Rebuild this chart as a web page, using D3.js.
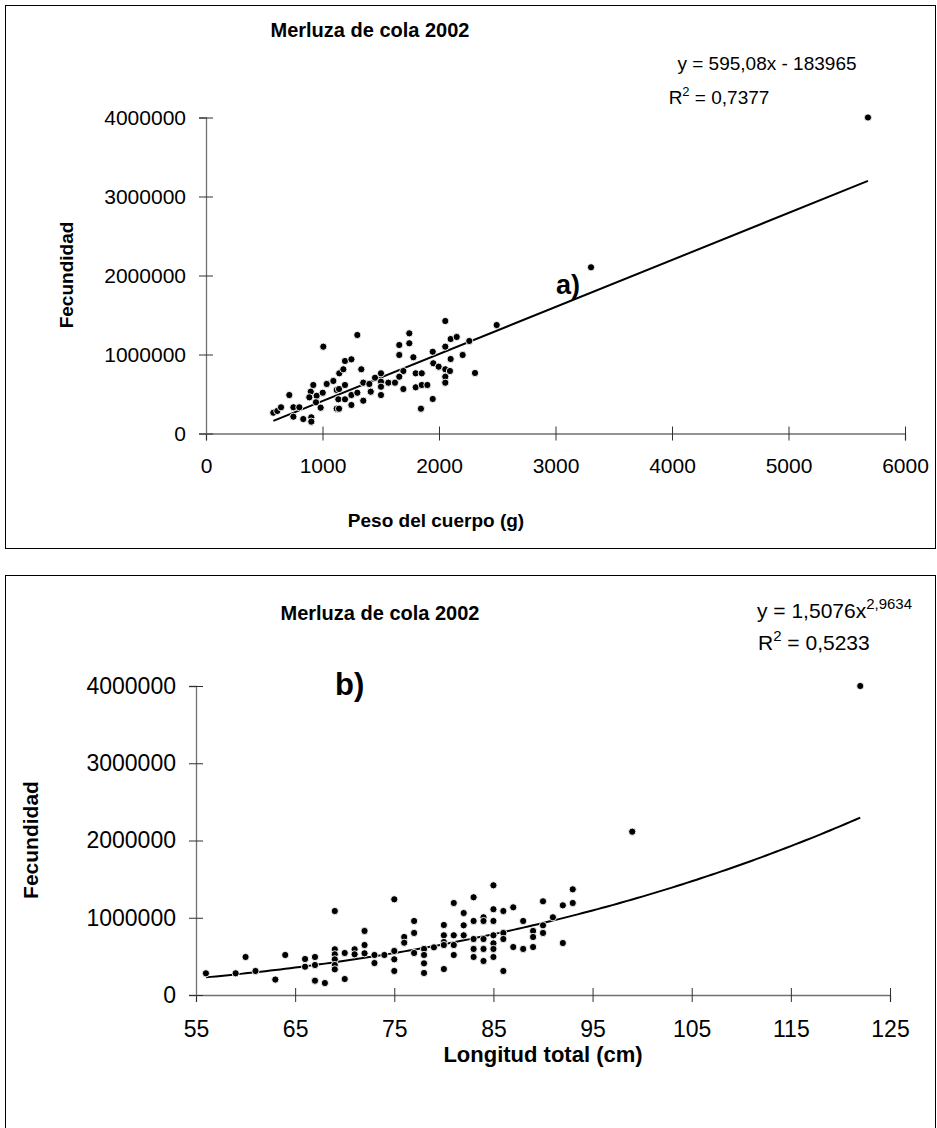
<!DOCTYPE html>
<html>
<head>
<meta charset="utf-8">
<script src="https://cdn.jsdelivr.net/npm/d3@7/dist/d3.min.js"></script>
<style>
  body{margin:0;background:#fff;}
  svg text{font-family:"Liberation Sans",Arial,sans-serif;fill:#000;}
</style>
</head>
<body>
<svg width="937" height="1128"></svg>
<script>
// a) peso del cuerpo (g) vs fecundidad
var pesoG = [578,612,644,715,750,750,801,835,904,904,899,921,887,950,944,1007,984,1002,1036,1093,
  1144,1179,1193,1248,1122,1142,1193,1136,1193,1122,1142,1248,1248,1299,1299,1333,1350,1350,1402,1414,
  1451,1502,1502,1502,1502,1565,1622,1659,1659,1745,1745,1694,1694,1659,1780,1800,1852,1800,1852,1900,
  1845,1946,1951,1946,1997,2054,2054,2054,2054,2054,2100,2152,2260,2100,2203,2094,2309,2495,3305,5682];
var fecA = [263000,285000,332000,487000,213000,332000,332000,183000,205000,150000,529000,614000,458000,478000,395000,1099000,327000,516000,627000,665000,
  762000,813000,918000,939000,551000,563000,614000,433000,433000,314000,314000,487000,361000,1247000,516000,813000,643000,415000,627000,529000,
  706000,762000,656000,592000,487000,643000,643000,1120000,994000,1268000,1142000,791000,563000,719000,965000,762000,762000,585000,614000,614000,
  314000,1035000,889000,437000,846000,813000,719000,643000,1099000,1424000,1196000,1222000,1171000,943000,994000,791000,766000,1373000,2104000,4000000];

// b) longitud total (cm) vs fecundidad
var longCm = [56,59,60,61,63,64,66,66,67,67,67,68,69,69,69,69,69,69,70,70,71,71,72,72,72,73,73,74,75,75,75,75,76,76,
  77,77,77,78,78,78,78,79,80,80,80,80,80,81,81,81,81,82,82,82,83,83,83,83,83,84,84,84,84,84,
  85,85,85,85,85,85,85,86,86,86,86,87,87,88,88,89,89,89,90,90,90,91,92,92,93,93,99,122];
var fecB = [281000,281000,492000,311000,200000,518000,466000,366000,492000,388000,185000,155000,1087000,592000,527000,462000,388000,332000,544000,207000,
  592000,527000,829000,647000,540000,518000,414000,518000,1239000,570000,462000,311000,751000,677000,
  958000,803000,544000,596000,518000,410000,285000,617000,906000,773000,686000,647000,336000,1191000,773000,647000,518000,1061000,902000,773000,
  1265000,958000,725000,596000,492000,1006000,958000,725000,596000,440000,
  1420000,1110000,958000,773000,669000,596000,492000,1087000,803000,725000,311000,1135000,621000,958000,596000,829000,751000,621000,
  1213000,902000,803000,1006000,1161000,673000,1368000,1191000,2114000,4000000];

// ticks
var xTicksA = [0,1000,2000,3000,4000,5000,6000];
var xTicksB = [55,65,75,85,95,105,115,125];
var yTicks = [0,1000000,2000000,3000000,4000000];

// lineas de tendencia (Excel)
var linA = {m:595.08, b:-183965};
var potB = {a:1.5076, b:2.9634};

var svg = d3.select("svg");
var font = '"Liberation Sans",Arial,sans-serif';

// marcos
svg.append("rect").attr("x",5.5).attr("y",5.5).attr("width",930).attr("height",543)
  .attr("fill","none").attr("stroke","#000").attr("stroke-width",1);
svg.append("rect").attr("x",5.5).attr("y",575.5).attr("width",930).attr("height",600)
  .attr("fill","none").attr("stroke","#000").attr("stroke-width",1);

function drawAxes(g, x, y, xt, yt, fs){
  var xa = g.append("g").attr("transform","translate(0,"+y.range()[0]+")")
    .call(d3.axisBottom(x).tickValues(xt).tickSize(7).tickPadding(fs*0.55+6).tickFormat(d3.format("d")));
  var ya = g.append("g").attr("transform","translate("+x.range()[0]+",0)")
    .call(d3.axisLeft(y).tickValues(yt).tickSize(7).tickPadding(13).tickFormat(d3.format("d")));
  [xa,ya].forEach(function(a){
    a.select(".domain").attr("stroke","#707070").attr("stroke-width",1.3);
    a.selectAll(".tick line").attr("stroke","#303030").attr("stroke-width",1);
    a.selectAll(".tick text").attr("font-size",fs).attr("font-family",font).attr("fill","#000");
  });
  xa.selectAll(".tick line").attr("y1",-7);
  ya.selectAll(".tick line").attr("x1",7);
}

function drawDots(g, x, y, xs, ys){
  g.selectAll("circle.p").data(xs).enter().append("circle")
    .attr("class","p")
    .attr("cx",function(d){return x(d);})
    .attr("cy",function(d,i){return y(ys[i]);})
    .attr("r",3.6)
    .attr("fill","#000")
    .attr("stroke","#fff")
    .attr("stroke-width",0.9);
}

/* ---------- grafico a) ---------- */
var gA = svg.append("g");
var xA = d3.scaleLinear().domain([0,6000]).range([206,905]);
var yA = d3.scaleLinear().domain([0,4000000]).range([433.5,117.5]);
drawAxes(gA, xA, yA, xTicksA, yTicks, 21);

var xminA = d3.min(pesoG), xmaxA = d3.max(pesoG);
gA.append("path")
  .attr("d", d3.line().x(function(d){return xA(d);}).y(function(d){return yA(linA.m*d+linA.b);})([xminA,xmaxA]))
  .attr("fill","none").attr("stroke","#000").attr("stroke-width",2);
drawDots(gA, xA, yA, pesoG, fecA);

gA.append("text").attr("x",370).attr("y",37).attr("text-anchor","middle")
  .attr("font-size",20).attr("font-weight","bold").text("Merluza de cola 2002");
gA.append("text").attr("x",767).attr("y",70).attr("text-anchor","middle")
  .attr("font-size",19).text("y = 595,08x - 183965");
var r2a = gA.append("text").attr("x",719).attr("y",104).attr("text-anchor","middle").attr("font-size",19);
r2a.append("tspan").text("R");
r2a.append("tspan").attr("dy",-8).attr("font-size",13).text("2");
r2a.append("tspan").attr("dy",8).text(" = 0,7377");
gA.append("text").attr("x",556).attr("y",294)
  .attr("font-size",27).attr("font-weight","bold").text("a)");
gA.append("text").attr("transform","translate(73,275) rotate(-90)").attr("text-anchor","middle")
  .attr("font-size",19).attr("font-weight","bold").text("Fecundidad");
gA.append("text").attr("x",436).attr("y",527).attr("text-anchor","middle")
  .attr("font-size",19).attr("font-weight","bold").text("Peso del cuerpo (g)");

/* ---------- grafico b) ---------- */
var gB = svg.append("g");
var xB = d3.scaleLinear().domain([55,125]).range([196,890]);
var yB = d3.scaleLinear().domain([0,4000000]).range([995,686]);
drawAxes(gB, xB, yB, xTicksB, yTicks, 23);

var xminB = d3.min(longCm), xmaxB = d3.max(longCm);
var potPts = d3.range(xminB, xmaxB+0.001, 0.5);
gB.append("path")
  .attr("d", d3.line().x(function(d){return xB(d);}).y(function(d){return yB(potB.a*Math.pow(d,potB.b));})(potPts))
  .attr("fill","none").attr("stroke","#000").attr("stroke-width",2);
drawDots(gB, xB, yB, longCm, fecB);

gB.append("text").attr("x",380).attr("y",620).attr("text-anchor","middle")
  .attr("font-size",20).attr("font-weight","bold").text("Merluza de cola 2002");
var eqb = gB.append("text").attr("x",757).attr("y",618).attr("font-size",21);
eqb.append("tspan").text("y = 1,5076x");
eqb.append("tspan").attr("dy",-9).attr("font-size",15).text("2,9634");
var r2b = gB.append("text").attr("x",758).attr("y",650).attr("font-size",21);
r2b.append("tspan").text("R");
r2b.append("tspan").attr("dy",-9).attr("font-size",15).text("2");
r2b.append("tspan").attr("dy",9).text(" = 0,5233");
gB.append("text").attr("x",335).attr("y",695)
  .attr("font-size",31).attr("font-weight","bold").text("b)");
gB.append("text").attr("transform","translate(38,840) rotate(-90)").attr("text-anchor","middle")
  .attr("font-size",21).attr("font-weight","bold").text("Fecundidad");
gB.append("text").attr("x",543).attr("y",1062).attr("text-anchor","middle")
  .attr("font-size",22).attr("font-weight","bold").text("Longitud total (cm)");
</script>
</body>
</html>
